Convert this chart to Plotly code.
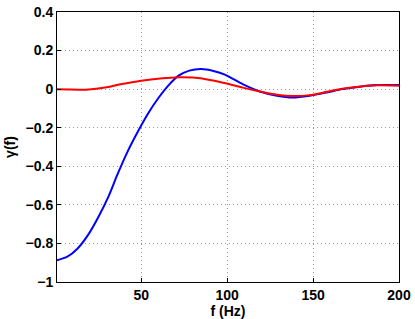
import plotly.graph_objects as go

f_blue = [1, 7, 13, 19, 25, 31, 36, 42, 48, 54, 60, 66, 72, 78, 85, 92, 99, 109, 119, 129, 138, 148, 158, 167, 177, 187, 200]
g_blue = [-0.888, -0.869, -0.826, -0.757, -0.664, -0.556, -0.446, -0.325, -0.221, -0.126, -0.046, 0.021, 0.071, 0.096, 0.104, 0.094, 0.074, 0.026, -0.012, -0.034, -0.043, -0.034, -0.017, 0.0, 0.013, 0.021, 0.022]

f_red = [1, 8, 14, 21, 29, 38, 50, 61, 72, 80, 90, 99, 109, 119, 129, 138, 148, 158, 167, 177, 187, 200]
g_red = [0.0, -0.002, -0.003, 0.0, 0.009, 0.025, 0.043, 0.055, 0.062, 0.06, 0.048, 0.031, 0.008, -0.012, -0.029, -0.036, -0.031, -0.014, 0.002, 0.013, 0.02, 0.018]

x_ticks = [50, 100, 150, 200]
y_ticks = [0.4, 0.2, 0, -0.2, -0.4, -0.6, -0.8, -1]
y_labels = ["0.4", "0.2", "0", "\u22120.2", "\u22120.4", "\u22120.6", "\u22120.8", "\u22121"]

fig = go.Figure()
fig.add_trace(go.Scatter(x=f_blue, y=g_blue, mode="lines", line=dict(color="#0000ff", width=2, shape="spline", smoothing=0.7), showlegend=False))
fig.add_trace(go.Scatter(x=f_red, y=g_red, mode="lines", line=dict(color="#ff0000", width=2, shape="spline", smoothing=0.7), showlegend=False))

font = dict(family="Liberation Sans, Arial, sans-serif", size=14, color="black")
fig.update_layout(
    width=415, height=319,
    margin=dict(l=57, r=16, t=12, b=37),
    paper_bgcolor="white", plot_bgcolor="white",
    font=font,
)
fig.update_xaxes(
    range=[1, 200], tickvals=x_ticks, ticktext=["<b>%d</b>" % v for v in x_ticks],
    automargin=False,
    showgrid=True, gridcolor="#999999", griddash="1px,3px", gridwidth=1,
    showline=True, linecolor="black", linewidth=1, mirror=True,
    ticks="inside", ticklen=4, tickcolor="black",
    title=dict(text="<b>f (Hz)</b>", standoff=0, font=font),
    zeroline=False,
)
fig.update_yaxes(
    range=[-1, 0.4], tickvals=y_ticks, ticktext=["<b>%s</b>" % t for t in y_labels],
    automargin=False,
    showgrid=True, gridcolor="#999999", griddash="1px,3px", gridwidth=1,
    showline=True, linecolor="black", linewidth=1, mirror=True,
    ticks="inside", ticklen=4, tickcolor="black",
    title=dict(text="<b>\u03b3(f)</b>", standoff=6, font=font),
    zeroline=False,
)
fig.write_html("out.html", config={"displayModeBar": False},
               post_script="document.body.style.margin='0';document.body.style.overflow='hidden';")
